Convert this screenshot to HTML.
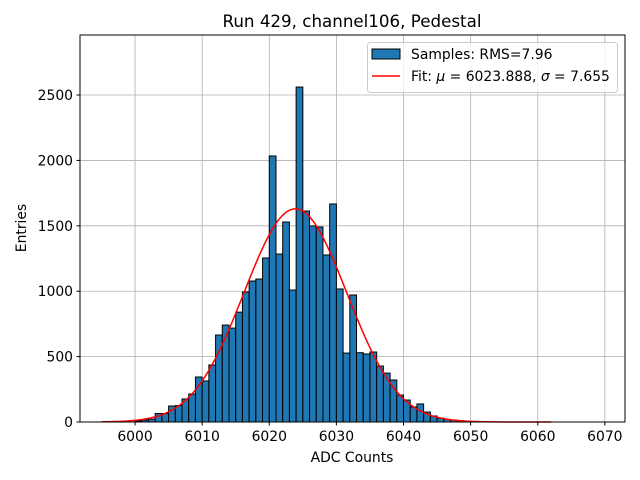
<!DOCTYPE html>
<html><head><meta charset="utf-8"><style>
body{margin:0;background:#fff;}
svg{display:block;font-family:"DejaVu Sans","Liberation Sans",sans-serif;}
</style></head><body>
<svg id="chart" width="640" height="480" viewBox="0 0 640 480">
<rect width="640" height="480" fill="#fff"/>
<g id="grid"></g>
<g id="bars"></g>
<path id="fit" fill="none" stroke="#ff0000" stroke-width="1.5"/>
<rect x="80" y="35" width="545" height="387" fill="none" stroke="#000" stroke-width="1"/>
<g id="ticks" font-size="13.9" fill="#000"></g>
<text x="352" y="27" text-anchor="middle" font-size="16.7">Run 429, channel106, Pedestal</text>
<text x="352" y="462" text-anchor="middle" font-size="13.9">ADC Counts</text>
<text transform="translate(26,228) rotate(-90)" text-anchor="middle" font-size="13.9">Entries</text>
<g>
<rect x="367.5" y="42.5" width="250" height="50" rx="3" fill="#fff" fill-opacity="0.8" stroke="#ccc"/>
<rect x="372" y="49" width="28" height="10" fill="#1f77b4" stroke="#000"/>
<text x="411" y="59" font-size="13.9">Samples: RMS=7.96</text>
<line x1="372" y1="76" x2="400" y2="76" stroke="#ff0000" stroke-width="1.5"/>
<text x="411" y="81" font-size="13.9">Fit: <tspan font-style="italic">μ</tspan> = 6023.888, <tspan font-style="italic">σ</tspan> = 7.655</text>
</g>
</svg>
<script>
const binStarts=[6000,6001,6002,6003,6004,6005,6006,6007,6008,6009,6010,6011,6012,6013,6014,6015,6016,6017,6018,6019,6020,6021,6022,6023,6024,6025,6026,6027,6028,6029,6030,6031,6032,6033,6034,6035,6036,6037,6038,6039,6040,6041,6042,6043,6044,6045,6046,6047,6048];
const counts=[8,15,22,65,65,122,125,176,214,344,314,436,665,741,718,840,994,1078,1093,1254,2034,1284,1529,1009,2561,1613,1499,1491,1277,1667,1017,527,971,530,520,535,428,374,321,206,168,115,138,76,46,30,20,15,10];
const xTicks=[6000,6010,6020,6030,6040,6050,6060,6070];
const yTicks=[0,500,1000,1500,2000,2500];
const fitMu=6023.888, fitSigma=7.655, fitAmp=1630, fitRange=[5995,6062];
const X0=80,X1=625,Y0=422,Y1=35,xmin=5991.8,xmax=6073.0,ymin=0,ymax=2959;
const sx=v=>X0+(v-xmin)/(xmax-xmin)*(X1-X0);
const sy=v=>Y0-(v-ymin)/(ymax-ymin)*(Y0-Y1);
const NS="http://www.w3.org/2000/svg";
const grid=document.getElementById('grid'),ticks=document.getElementById('ticks'),bars=document.getElementById('bars');
function mk(tag,attrs,parent){const e=document.createElementNS(NS,tag);for(const k in attrs)e.setAttribute(k,attrs[k]);parent.appendChild(e);return e;}
xTicks.forEach(t=>{const x=sx(t);
 const g=mk('line',{x1:x,x2:x,y1:Y1,y2:Y0,stroke:'#b0b0b0','stroke-width':0.8},grid);
 
 
 const tk=mk('line',{x1:x,x2:x,y1:Y0,y2:Y0+3.5,stroke:'#000'},ticks);
 
 
 const tx=mk('text',{x:x,y:Y0+19,'text-anchor':'middle'},ticks);tx.textContent=t;
 
 
});
yTicks.forEach(t=>{const y=sy(t);
 const g=mk('line',{x1:X0,x2:X1,y1:y,y2:y,stroke:'#b0b0b0','stroke-width':0.8},grid);
 
 
 const tk=mk('line',{x1:X0-3.5,x2:X0,y1:y,y2:y,stroke:'#000'},ticks);
 
 
 const tx=mk('text',{x:X0-7,y:y+5,'text-anchor':'end'},ticks);tx.textContent=t;
 
 
});
binStarts.forEach((b,i)=>{const x=sx(b),w=sx(b+1)-x,y=sy(counts[i]);
 const r=mk('rect',{x:x,y:y,width:w,height:Y0-y,fill:'#1f77b4',stroke:'#000','stroke-width':1},bars);
 
 
});
let d='';for(let v=fitRange[0];v<=fitRange[1];v+=0.25){const f=fitAmp*Math.exp(-0.5*((v-fitMu)/fitSigma)**2);d+=(d?'L':'M')+sx(v).toFixed(2)+','+sy(f).toFixed(2);}
document.getElementById('fit').setAttribute('d',d);
</script>
</body></html>
